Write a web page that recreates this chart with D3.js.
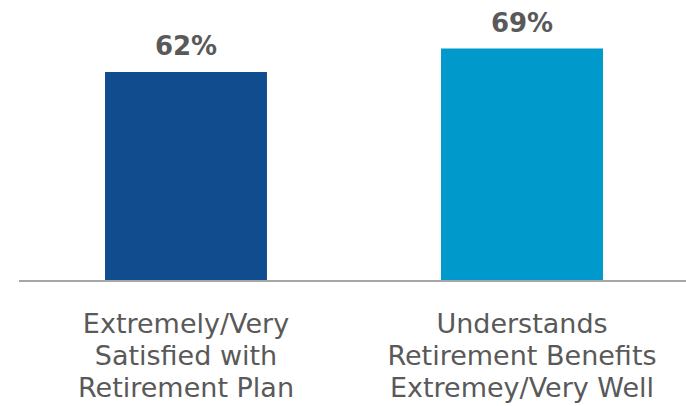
<!DOCTYPE html>
<html>
<head>
<meta charset="utf-8">
<script src="https://cdn.jsdelivr.net/npm/d3@7"></script>
<style>
  html, body { margin: 0; padding: 0; background: #ffffff; }
  svg { display: block; }
</style>
</head>
<body>
<svg id="chart" width="686" height="406"></svg>
<script>
// Survey results
const categories = ["satisfied", "understands"];
const categoryLines = [
  ["Extremely/Very", "Satisfied with", "Retirement Plan"],
  ["Understands", "Retirement Benefits", "Extremey/Very Well"]
];
const values = [62, 69];
const barColors = ["#114c8f", "#0099cc"];

const svg = d3.select("#chart");
const baseline = 280;

const x = d3.scaleBand()
  .domain(categories)
  .range([18, 690])
  .paddingInner(0.518)
  .paddingOuter(0.259);

const y = d3.scaleLinear()
  .domain([0, 100])
  .range([baseline, baseline - 335.5]);

// Bars
svg.selectAll("rect.bar")
  .data(values)
  .join("rect")
  .attr("class", "bar")
  .attr("x", (d, i) => x(categories[i]))
  .attr("width", x.bandwidth())
  .attr("y", d => y(d))
  .attr("height", d => y(0) - y(d))
  .attr("fill", (d, i) => barColors[i]);

// Baseline axis
const axis = d3.axisBottom(x).tickSize(0).tickFormat("");
const axisG = svg.append("g")
  .attr("transform", `translate(0,${baseline + 1})`)
  .call(axis);
axisG.select(".domain")
  .attr("stroke", "#a6a6a6")
  .attr("stroke-width", 2)
  .attr("d", "M19,0H686");

// Value labels
svg.selectAll("text.value")
  .data(values)
  .join("text")
  .attr("class", "value")
  .attr("x", (d, i) => x(categories[i]) + x.bandwidth() / 2)
  .attr("y", d => y(d) - 17)
  .attr("text-anchor", "middle")
  .attr("font-family", "'DejaVu Sans', sans-serif")
  .attr("font-weight", "bold")
  .attr("font-size", 26)
  .attr("fill", "#595959")
  .text(d => d + "%");

// Category labels
categories.forEach((c, i) => {
  const t = svg.append("text")
    .attr("text-anchor", "middle")
    .attr("font-family", "'DejaVu Sans', sans-serif")
    .attr("font-size", 27)
    .attr("fill", "#595959");
  categoryLines[i].forEach((line, j) => {
    t.append("tspan")
      .attr("x", x(c) + x.bandwidth() / 2)
      .attr("y", 333 + j * 32)
      .text(line);
  });
});
</script>
</body>
</html>
